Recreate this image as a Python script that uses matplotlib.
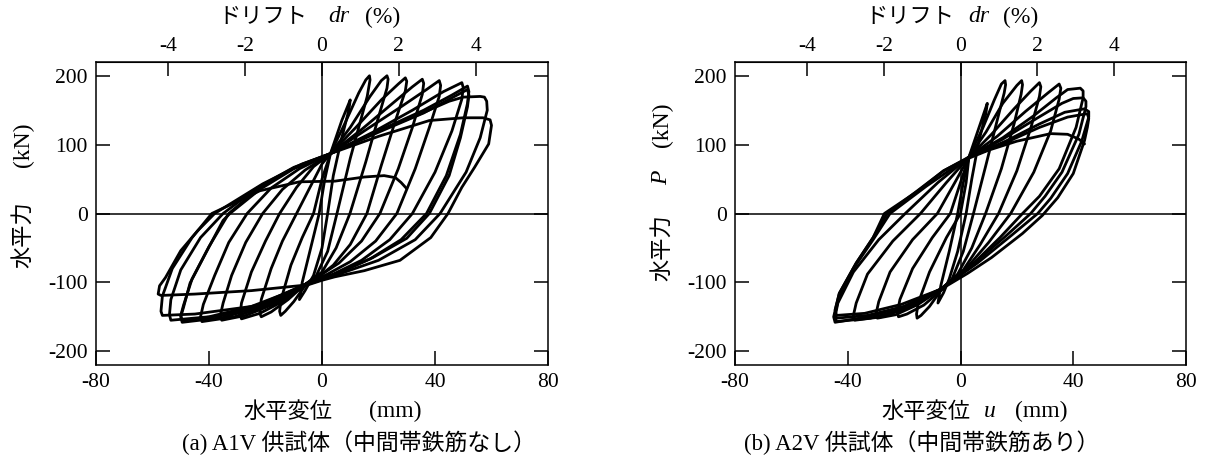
import matplotlib
matplotlib.use('Agg')
import matplotlib.pyplot as plt

plt.rcParams['font.family'] = ['Liberation Serif', 'Noto Sans CJK JP']
plt.rcParams['axes.unicode_minus'] = False

W, H = 1210, 461

# drift (%) = u / DRIFT_MM
DRIFT_MM = 13.6

X_TICKS = [-80, -40, 0, 40, 80]
Y_TICKS = [-200, -100, 0, 100, 200]
DR_TICKS = [-4, -2, 0, 2, 4]

a1v_loops = [
    [(3, 87), (7, 135), (10, 165), (9.5, 150), (7, 110), (4, 55), (2, 0), (0, -50), (-3, -90), (-6, -112),
     (-8, -125), (-7, -100), (-4, -50), (-1, 0), (1, 50), (3, 87)],
    [(3, 87), (8, 130), (13, 175), (15.5, 194), (16.8, 200), (17, 194), (16, 170), (14, 140), (10, 80),
     (5.3, 0), (2, -55), (-2, -90), (-6, -105), (-10, -128), (-13, -142), (-14.6, -148), (-15, -142),
     (-14.5, -125), (-11, -75), (-7, -35), (-3, 0), (0, 50), (3, 87)],
    [(3, 87), (10, 125), (17, 170), (21, 193), (23, 200), (23.4, 195), (23, 182), (20, 140), (15.5, 75),
     (9.9, 0), (5, -50), (0, -85), (-6, -103), (-12, -125), (-18, -143), (-21.5, -150), (-22, -145),
     (-21.5, -125), (-18, -80), (-14, -40), (-9, 0), (-4, 40), (0, 72), (3, 87)],
    [(3, 87), (12, 125), (21, 165), (27, 188), (29.5, 197), (30, 192), (29.5, 178), (26, 135), (21, 70),
     (15.9, 0), (10, -45), (4, -75), (0, -88), (-6, -103), (-14, -128), (-22, -145), (-28.5, -153),
     (-29, -147), (-28.5, -130), (-25, -85), (-20, -40), (-15, 0), (-9, 38), (-3, 68), (3, 87)],
    [(3, 87), (14, 122), (25, 160), (32, 184), (35.5, 195), (36, 189), (35.5, 173), (32, 125), (27, 65),
     (20.5, 0), (14, -40), (6, -72), (0, -88), (-6, -103), (-16, -130), (-27, -148), (-35.5, -155),
     (-36, -148), (-35, -130), (-32, -90), (-27, -42), (-21, 0), (-14, 35), (-6, 63), (3, 87)],
    [(3, 87), (15, 120), (28, 155), (37, 180), (41.5, 193), (42, 186), (41.5, 170), (38, 125), (33, 65),
     (26.5, 0), (19, -40), (10, -70), (2, -88), (-6, -103), (-18, -132), (-31, -150), (-42.5, -157),
     (-43, -150), (-42, -132), (-38, -90), (-33, -42), (-26.5, 0), (-18, 37), (-8, 65), (3, 87)],
    [(3, 87), (18, 118), (32, 150), (43, 177), (49.5, 190), (50, 183), (49.5, 166), (46, 120), (40, 60),
     (32, 0), (24, -38), (14, -68), (4, -88), (-6, -103), (-20, -133), (-35, -151), (-49.5, -158),
     (-50, -150), (-49, -136), (-46.7, -101), (-40.7, -54), (-35, -10), (-32.6, 0), (-22, 35), (-10, 65),
     (3, 87)],
    [(3, 87), (20, 120), (36, 150), (46, 172), (51.5, 185), (52, 177), (51.5, 160), (49, 115), (44, 55),
     (37, 0), (28, -38), (17, -66), (6, -86), (-6, -103), (-20, -130), (-35, -148), (-49.5, -155),
     (-50, -148), (-49, -133), (-46, -95), (-40, -48), (-33, 0), (-22, 38), (-10, 66), (3, 87)],
    [(3, 87), (20, 118), (36, 146), (46, 168), (51.5, 180), (52, 172), (51.5, 155), (49, 110), (45, 55),
     (38, 0), (30, -36), (18, -64), (6, -86), (-6, -103), (-22, -132), (-40, -150), (-53.5, -155),
     (-54, -147), (-53.5, -125), (-50, -82), (-43, -35), (-35, 0), (-23, 37), (-10, 67), (3, 87)],
    [(3, 87), (20, 120), (35, 145), (45, 163), (50, 169), (56, 170), (57.5, 169), (58.3, 163), (58.5, 150),
     (56, 110), (51, 60), (41.8, 0), (33, -38), (20, -68), (6, -88), (-6, -104), (-25, -112), (-45, -117),
     (-57, -119), (-58, -117), (-57.5, -105), (-55.4, -93), (-50, -54), (-44, -25), (-38, 0), (-21, 43),
     (-7, 72), (3, 87)],
    [(3, 87), (20, 112), (38, 135), (50, 139), (57, 139), (59.5, 136), (60, 128), (59, 101), (54, 67),
     (49.5, 38), (44.6, 0), (38.5, -35), (27.6, -68), (15, -83), (4.5, -92), (0, -97), (-6, -105),
     (-25, -135), (-45, -146), (-56.5, -148), (-57, -142), (-56.5, -120), (-53, -80), (-46, -35), (-39, 0),
     (-22, 33), (-8, 46), (4.6, 47), (15, 53), (22, 55), (26, 52), (28, 45), (30, 36)],
]

# A2V
a2v_loops = [
    [(3, 82), (7, 130), (9.5, 160), (9, 145), (6.5, 105), (4, 50), (2, 0), (-1, -55), (-4, -95),
     (-6, -115), (-8, -130), (-7, -105), (-4, -55), (-1, 0), (1, 45), (3, 82)],
    [(3, 82), (8, 125), (12, 165), (14.5, 188), (15.8, 193), (16, 187), (15.5, 175), (13, 135), (9, 70),
     (4.6, 0), (1, -55), (-3, -95), (-7, -112), (-11, -135), (-14, -148), (-15.4, -152), (-15.6, -146),
     (-15, -130), (-11, -85), (-5, -35), (0, 0), (2, 45), (3, 82)],
    [(3, 82), (9, 118), (15, 160), (20, 186), (21.7, 193), (22, 187), (21.5, 173), (19, 130), (14.5, 65),
     (8.9, 0), (4, -50), (-1, -88), (-7, -112), (-13, -133), (-19, -146), (-22, -150), (-22.4, -144),
     (-21.5, -125), (-17, -80), (-10, -35), (-3.6, 0), (0, 45), (3, 82)],
    [(3, 82), (11, 115), (19, 152), (25, 178), (28, 190), (28.5, 184), (28, 170), (25, 125), (20, 62),
     (13.5, 0), (7, -45), (1, -82), (-7, -110), (-15, -132), (-23, -147), (-29.5, -152), (-30, -146),
     (-29, -128), (-25, -85), (-17, -38), (-8.2, 0), (-2, 45), (3, 82)],
    [(3, 82), (13, 112), (23, 148), (31, 175), (35, 188), (35.6, 182), (35, 166), (32, 120), (26, 60),
     (17.8, 0), (10, -42), (2, -80), (-7, -110), (-17, -135), (-28, -150), (-37.5, -155), (-38, -148),
     (-37, -130), (-33, -88), (-24, -40), (-14.2, 0), (-5, 45), (3, 82)],
    [(3, 82), (15, 110), (26, 142), (34, 168), (38, 180), (42.5, 182), (43.5, 178), (43.5, 168), (41, 125),
     (35, 65), (28, 25), (22, 0), (14, -35), (4, -75), (-7, -110), (-19, -137), (-32, -152), (-44, -157),
     (-44.5, -150), (-43.5, -130), (-38, -85), (-29, -38), (-19.6, 0), (-8, 45), (3, 82)],
    [(3, 82), (15, 108), (27, 138), (36, 160), (40, 167), (43.5, 168), (44.5, 163), (44.5, 155), (42, 115),
     (36, 60), (30, 25), (24.9, 0), (16, -33), (5, -72), (-7, -110), (-20, -135), (-33, -148), (-44, -152),
     (-44.5, -145), (-43.5, -128), (-38, -80), (-31, -38), (-25, 0), (-12, 40), (3, 82)],
    [(3, 82), (16, 105), (28, 130), (37, 147), (44, 152), (45.5, 148), (45.5, 140), (43, 105), (38, 58),
     (32, 22), (27.4, 0), (18, -32), (6, -72), (-7, -110), (-21, -132), (-34, -145), (-44, -148),
     (-44.5, -140), (-43, -116), (-37, -72), (-31, -35), (-27, 0), (-15, 33), (-6, 62), (3, 82)],
    [(3, 82), (16, 103), (28, 125), (38, 140), (45, 145), (45.5, 138), (45, 125), (44, 106), (40, 58),
     (34.5, 23), (29, -3), (22, -29), (11, -64), (2.5, -87), (-5.7, -107), (-20, -135), (-33, -150),
     (-44.5, -158), (-45, -150), (-43, -116), (-37, -72), (-31, -35), (-26, 0), (-15.3, 33), (-6, 62),
     (1, 77), (10, 92), (20, 105), (32, 116), (38, 115), (42, 108), (44, 101)],
]

SERIF = 'Liberation Serif'
JP = ['Noto Sans CJK JP']
MIX = ['Liberation Serif', 'Noto Sans CJK JP']


def px(x, y):
    return x / W, 1 - y / H


def setup_axes(ax):
    ax.set_xlim(-80, 80)
    ax.set_ylim(-220, 220)
    ax.set_xticks(X_TICKS)
    ax.set_yticks(Y_TICKS)
    ax.tick_params(direction='in', length=10, width=1.1, labelsize=15.5,
                   right=True, top=False, pad=6)
    for s in ax.spines.values():
        s.set_linewidth(1.1)
    ax.axhline(0, color='k', lw=1.1, zorder=1)
    ax.axvline(0, color='k', lw=1.1, zorder=1)
    top = ax.secondary_xaxis('top', functions=(lambda u: u / DRIFT_MM, lambda d: d * DRIFT_MM))
    top.set_xticks(DR_TICKS)
    top.tick_params(direction='in', length=10, width=1.1, labelsize=15.5, pad=4)


def draw_loops(ax, loops):
    for loop in loops:
        u = [p[0] for p in loop]
        P = [p[1] for p in loop]
        ax.plot(u, P, color='k', lw=2.0, solid_joinstyle='round', solid_capstyle='round', zorder=3)


def t(fig, x, y, s, fam, size=16, style='normal', rot=0):
    fig.text(*px(x, y), s, family=fam, fontsize=size, style=style, rotation=rot,
             ha='center', va='center')


def main():
    fig = plt.figure(figsize=(W / 100, H / 100), dpi=100)
    ax1 = fig.add_axes([96 / W, 1 - 365 / H, 452 / W, 303 / H])
    ax2 = fig.add_axes([735 / W, 1 - 365 / H, 451 / W, 303 / H])
    for ax, loops in ((ax1, a1v_loops), (ax2, a2v_loops)):
        setup_axes(ax)
        draw_loops(ax, loops)

    # top labels
    t(fig, 263, 17, 'ドリフト', JP)
    t(fig, 339, 17, 'dr', SERIF, 17, 'italic')
    t(fig, 383, 17, '(%)', SERIF, 17)
    t(fig, 910, 17, 'ドリフト', JP)
    t(fig, 979, 17, 'dr', SERIF, 17, 'italic')
    t(fig, 1021, 17, '(%)', SERIF, 17)

    # y labels
    t(fig, 23, 235, '水平力', JP, rot=90)
    t(fig, 23, 145, '(kN)', SERIF, 17, rot=90)
    t(fig, 662, 248, '水平力', JP, rot=90)
    t(fig, 662, 178, 'P', SERIF, 17, 'italic', rot=90)
    t(fig, 662, 125, '(kN)', SERIF, 17, rot=90)

    # x labels
    t(fig, 288, 411, '水平変位', JP)
    t(fig, 395, 411, '(mm)', SERIF, 17)
    t(fig, 926, 411, '水平変位', JP)
    t(fig, 990, 411, 'u', SERIF, 17, 'italic')
    t(fig, 1041, 411, '(mm)', SERIF, 17)

    # captions
    t(fig, 359, 443, '(a) A1V 供試体（中間帯鉄筋なし）', MIX, 16.5)
    t(fig, 922, 443, '(b) A2V 供試体（中間帯鉄筋あり）', MIX, 16.5)

    fig.savefig('out.png', dpi=100)


if __name__ == '__main__':
    main()
